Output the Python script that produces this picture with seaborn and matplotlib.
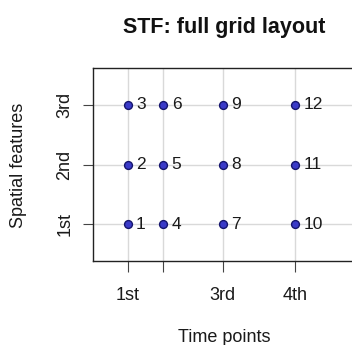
import matplotlib
matplotlib.use("Agg")
import matplotlib.pyplot as plt
import seaborn as sns
import pandas as pd

# Data
time_labels = ["1st", "2nd", "3rd", "4th"]
time_values = [1.0, 1.64, 2.70, 4.0]
shown_time_labels = ["1st", "", "3rd", "4th"]  # 2nd label dropped (overlap) in reference
space_labels = ["1st", "2nd", "3rd"]
space_values = [1, 2, 3]

rows = []
idx = 1
for t in time_values:
    for s in space_values:
        rows.append({"time": t, "space": s, "id": idx})
        idx += 1
df = pd.DataFrame(rows)

sns.set_style("white")
plt.rcParams["font.family"] = ["Liberation Sans", "DejaVu Sans"]

W, H = 352, 345
fig = plt.figure(figsize=(W / 100, H / 100), dpi=100)
left_px, right_px, top_px, bot_px = 93, 362, 68, 261
ax = fig.add_axes([left_px / W, 1 - bot_px / H, (right_px - left_px) / W, (bot_px - top_px) / H])

for t in time_values:
    ax.axvline(t, color="#d9d9d9", lw=1.0, zorder=0)
for s in space_values:
    ax.axhline(s, color="#d9d9d9", lw=1.0, zorder=0)

sns.scatterplot(data=df, x="time", y="space", ax=ax, s=32, color="#3a3ac8",
                edgecolor="#15156e", linewidth=1.0, zorder=3, legend=False)

for _, r in df.iterrows():
    ax.annotate(str(int(r["id"])), (r["time"], r["space"]), xytext=(6, 0),
                textcoords="offset points", va="center", ha="left",
                fontsize=12.5, color="#1a1a1a")

ax.set_xlim(0.378, 1 + (right_px - 127.7) / 55.8)
ax.set_ylim(0.385, 3.62)
ax.set_xticks(time_values)
ax.set_xticklabels(shown_time_labels)
ax.set_yticks(space_values)
ax.set_yticklabels(space_labels, rotation=90, va="center")
ax.tick_params(axis="x", direction="out", length=8, width=0.8, color="#444444",
               labelsize=13, labelcolor="#1a1a1a", pad=11, bottom=True)
ax.tick_params(axis="y", direction="out", length=7.5, width=0.8, color="#444444",
               labelsize=13, labelcolor="#1a1a1a", pad=6.5, left=True)
for sp in ax.spines.values():
    sp.set_color("#222222")
    sp.set_linewidth(1.0)
ax.spines["right"].set_visible(False)
ax.set_xlabel("")
ax.set_ylabel("")

fig.text(224 / W, 1 - 337 / H, "Time points", ha="center", va="center",
         fontsize=13, color="#1a1a1a")
fig.text(19 / W, 1 - 165 / H, "Spatial features", ha="center", va="center",
         rotation=90, fontsize=13, color="#1a1a1a")
fig.text(224 / W, 1 - 27 / H, "STF: full grid layout", ha="center", va="center",
         fontsize=15.5, fontweight="bold", color="#111111")

fig.savefig("out.png", dpi=100)
